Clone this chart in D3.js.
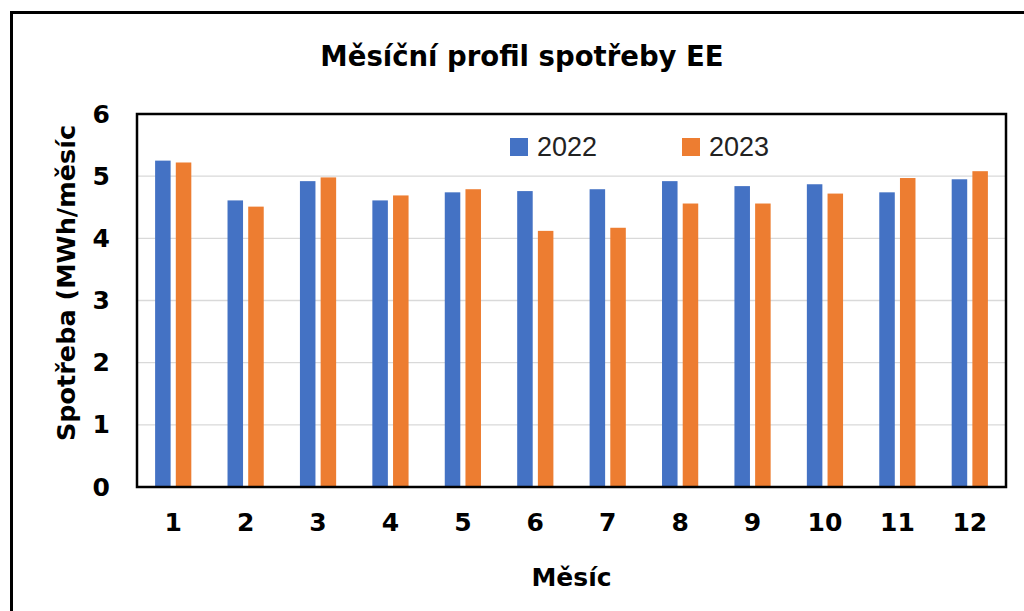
<!DOCTYPE html>
<html>
<head>
<meta charset="utf-8">
<script src="https://cdn.jsdelivr.net/npm/d3@7"></script>
<style>
  body { margin: 0; background: #fff; }
  svg { display: block; }
</style>
</head>
<body>
<div id="chart"></div>
<script>
var months = [1, 2, 3, 4, 5, 6, 7, 8, 9, 10, 11, 12];
var seriesNames = ["2022", "2023"];
var values2022 = [5.25, 4.61, 4.92, 4.61, 4.74, 4.76, 4.79, 4.92, 4.84, 4.87, 4.74, 4.95];
var values2023 = [5.22, 4.51, 4.98, 4.69, 4.79, 4.12, 4.17, 4.56, 4.56, 4.72, 4.97, 5.08];
var yTicks = [0, 1, 2, 3, 4, 5, 6];
var colors = ["#4472C4", "#ED7D31"];

var width = 1024, height = 611;
var boldFont = "'DejaVu Sans', 'Noto Sans', sans-serif";

var svg = d3.select("#chart")
    .append("svg")
    .attr("width", width)
    .attr("height", height);

// outer frame (only top/left edges visible in the picture)
svg.append("rect")
    .attr("x", 11.5)
    .attr("y", 12.5)
    .attr("width", 1040)
    .attr("height", 640)
    .attr("fill", "#fff")
    .attr("stroke", "#000")
    .attr("stroke-width", 3);

var plot = {left: 137, right: 1006, top: 114, bottom: 487};

var x = d3.scaleBand()
    .domain(months)
    .range([plot.left, plot.right])
    .paddingInner(0.5)
    .paddingOuter(0.25);

var xs = d3.scaleBand()
    .domain(seriesNames)
    .range([0, x.bandwidth()])
    .paddingInner(0.25);

var y = d3.scaleLinear()
    .domain([0, 6])
    .range([plot.bottom, plot.top]);

// gridlines
svg.append("g")
    .selectAll("line")
    .data(yTicks.slice(1, -1))
    .enter()
    .append("line")
    .attr("x1", plot.left)
    .attr("x2", plot.right)
    .attr("y1", function(d) { return y(d); })
    .attr("y2", function(d) { return y(d); })
    .attr("stroke", "#d9d9d9")
    .attr("stroke-width", 1.3);

var data = months.map(function(m, i) {
    return {month: m, vals: [values2022[i], values2023[i]]};
});

var groups = svg.append("g")
    .selectAll("g")
    .data(data)
    .enter()
    .append("g")
    .attr("transform", function(d) { return "translate(" + x(d.month) + ",0)"; });

groups.selectAll("rect")
    .data(function(d) {
        return d.vals.map(function(v, j) { return {name: seriesNames[j], value: v, color: colors[j]}; });
    })
    .enter()
    .append("rect")
    .attr("x", function(d) { return xs(d.name); })
    .attr("width", xs.bandwidth())
    .attr("y", function(d) { return y(d.value); })
    .attr("height", function(d) { return y(0) - y(d.value); })
    .attr("fill", function(d) { return d.color; });

// plot border
svg.append("rect")
    .attr("x", plot.left)
    .attr("y", plot.top)
    .attr("width", plot.right - plot.left)
    .attr("height", plot.bottom - plot.top)
    .attr("fill", "none")
    .attr("stroke", "#000")
    .attr("stroke-width", 2.5);

// y axis labels
var yAxis = svg.append("g")
    .attr("transform", "translate(" + 110 + ",0)")
    .call(d3.axisLeft(y).tickValues(yTicks).tickFormat(d3.format("d")).tickSize(0).tickPadding(0));
yAxis.select(".domain").remove();
yAxis.selectAll("text")
    .attr("font-family", boldFont)
    .attr("font-weight", "bold")
    .attr("font-size", 25)
    .attr("fill", "#000");

// x axis labels
var xAxis = svg.append("g")
    .attr("transform", "translate(0," + 513 + ")")
    .call(d3.axisBottom(x).tickSize(0).tickPadding(0));
xAxis.select(".domain").remove();
xAxis.selectAll("text")
    .attr("font-family", boldFont)
    .attr("font-weight", "bold")
    .attr("font-size", 25)
    .attr("fill", "#000");

// title
svg.append("text")
    .attr("x", 522)
    .attr("y", 66)
    .attr("text-anchor", "middle")
    .attr("font-family", boldFont)
    .attr("font-weight", "bold")
    .attr("font-size", 27.5)
    .attr("fill", "#000")
    .text("Měsíční profil spotřeby EE");

// axis titles
svg.append("text")
    .attr("x", (plot.left + plot.right) / 2)
    .attr("y", 586)
    .attr("text-anchor", "middle")
    .attr("font-family", boldFont)
    .attr("font-weight", "bold")
    .attr("font-size", 25)
    .attr("fill", "#000")
    .text("Měsíc");

svg.append("text")
    .attr("transform", "translate(75,283) rotate(-90)")
    .attr("text-anchor", "middle")
    .attr("font-family", boldFont)
    .attr("font-weight", "bold")
    .attr("font-size", 25.5)
    .attr("fill", "#000")
    .text("Spotřeba (MWh/měsíc");

// legend
var legendX = [510, 682];
var legend = svg.append("g")
    .selectAll("g")
    .data(seriesNames)
    .enter()
    .append("g")
    .attr("transform", function(d, i) { return "translate(" + legendX[i] + ",138)"; });

legend.append("rect")
    .attr("width", 18)
    .attr("height", 18)
    .attr("fill", function(d, i) { return colors[i]; });

legend.append("text")
    .attr("x", 27)
    .attr("y", 18)
    .attr("font-family", "'Liberation Sans', Arial, sans-serif")
    .attr("font-size", 27)
    .attr("fill", "#222")
    .text(function(d) { return d; });
</script>
</body>
</html>
